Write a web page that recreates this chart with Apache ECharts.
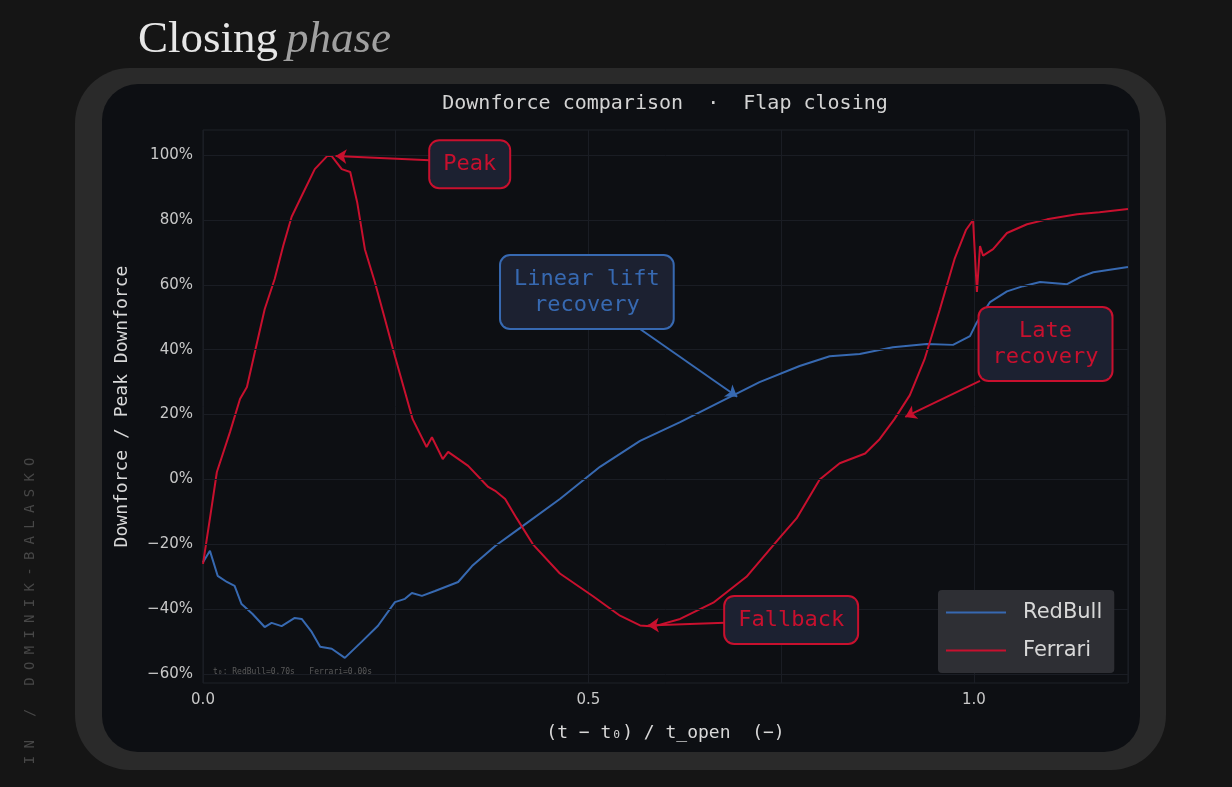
<!DOCTYPE html>
<html>
<head>
<meta charset="utf-8">
<script src="https://cdn.jsdelivr.net/npm/echarts@6/dist/echarts.min.js"></script>
<style>
  html, body { margin: 0; padding: 0; background: #151515; }
  #main { width: 1232px; height: 787px; }
</style>
</head>
<body>
<div id="main"></div>
<script>
// time axis, normalised (t - t0) / t_open
var redbullX = [0, 0.009, 0.019, 0.031, 0.041, 0.050, 0.064, 0.080, 0.089, 0.102, 0.119, 0.128, 0.141, 0.152, 0.167, 0.184,
  0.206, 0.227, 0.249, 0.262, 0.271, 0.284, 0.301, 0.331, 0.349, 0.379, 0.411, 0.463, 0.515, 0.567, 0.619, 0.671, 0.722,
  0.774, 0.813, 0.852, 0.895, 0.939, 0.973, 0.995, 1.004, 1.021, 1.043, 1.064, 1.086, 1.121, 1.138, 1.155, 1.2];
var redbullY = [-25.5, -22, -29.7, -31.6, -32.8, -38.4, -41.4, -45.5, -44.2, -45.2, -42.7, -43, -47, -51.6, -52.2, -55,
  -50, -45.1, -37.8, -36.8, -35, -35.9, -34.4, -31.6, -26.7, -20.5, -15, -6, 3.9, 11.9, 17.7, 23.9, 30,
  35, 38, 38.7, 40.8, 41.8, 41.5, 44.2, 48.5, 54.7, 58, 59.6, 60.9, 60.2, 62.4, 63.9, 65.5];

var ferrariX = [0, 0.009, 0.018, 0.035, 0.048, 0.057, 0.067, 0.080, 0.093, 0.104, 0.115, 0.128, 0.145, 0.161, 0.167, 0.180,
  0.191, 0.200, 0.210, 0.223, 0.236, 0.249, 0.272, 0.290, 0.297, 0.311, 0.318, 0.344, 0.370, 0.379, 0.392, 0.407, 0.428,
  0.463, 0.506, 0.541, 0.567, 0.585, 0.619, 0.662, 0.705, 0.748, 0.770, 0.800, 0.826, 0.859, 0.878, 0.897, 0.917, 0.936,
  0.956, 0.975, 0.990, 0.999, 1.004, 1.008, 1.012, 1.025, 1.043, 1.069, 1.095, 1.134, 1.163, 1.2];
var ferrariY = [-26, -12, 2.3, 14.6, 24.8, 28.5, 39, 52.5, 61.8, 72, 81, 87.4, 95.7, 99.7, 99.7, 95.7,
  94.8, 85.5, 71, 60.8, 49.5, 38, 18.6, 10, 13, 6.3, 8.5, 4.2, -2.3, -3.5, -6, -12, -20,
  -29, -36, -42, -45, -45.3, -43, -38, -30, -18, -12, 0, 5, 8, 12.5, 18.6, 26, 37,
  52.5, 68, 77, 80, 57.8, 72, 69, 71, 76, 78.7, 80.2, 81.8, 82.4, 83.4];

var yTicks = [-60, -40, -20, 0, 20, 40, 60, 80, 100];

// annotations: label, box centre, arrow start, arrow tip (data coords)
var noteTexts = ['Peak', 'Linear lift\nrecovery', 'Late\nrecovery', 'Fallback'];
var noteSeries = ['Ferrari', 'RedBull', 'Ferrari', 'Ferrari'];
var noteBoxes = [[0.346, 97.2], [0.498, 57.8], [1.093, 41.8], [0.763, -43.3]];
var noteFrom = [[0.294, 98.4], [0.567, 46.4], [1.008, 30.4], [0.677, -44.2]];
var noteTo = [[0.172, 99.7], [0.693, 25.5], [0.911, 19.3], [0.577, -45]];

var RED = '#c8102e';
var BLUE = '#3769b1';
var BOXBG = '#1c2131';
var MONO = '"DejaVu Sans Mono", monospace';
var SANS = '"DejaVu Sans", sans-serif';

function zip(xs, ys) {
  return xs.map(function (x, i) { return [x, ys[i]]; });
}
function pct(v) {
  return String(v).replace('-', '\u2212') + '%';
}
function notesFor(name, color) {
  var pts = [], arrows = [];
  noteTexts.forEach(function (t, i) {
    if (noteSeries[i] !== name) return;
    pts.push({ coord: noteBoxes[i], label: { formatter: t } });
    arrows.push([{ coord: noteFrom[i] }, { coord: noteTo[i] }]);
  });
  return {
    markPoint: {
      symbol: 'circle', symbolSize: 1, silent: true,
      itemStyle: { color: 'transparent' },
      label: {
        show: true, position: 'inside', color: color, fontFamily: MONO, fontSize: 22,
        lineHeight: 26, align: 'center', backgroundColor: BOXBG, borderColor: color,
        borderWidth: 2, borderRadius: 9, padding: [10, 13]
      },
      data: pts
    },
    markLine: {
      silent: true, symbol: ['none', 'arrow'], symbolSize: 11,
      lineStyle: { color: color, width: 2, type: 'solid' },
      label: { show: false },
      emphasis: { disabled: true },
      data: arrows
    }
  };
}

var chart = echarts.init(document.getElementById('main'), null, { renderer: 'canvas' });

var rb = notesFor('RedBull', BLUE);
var fe = notesFor('Ferrari', RED);

// watermark letters, spaced out along the left edge
var mark = 'IN / DOMINIK-BALASKO';
var markChars = mark.split('').map(function (c, i) {
  return { type: 'text', x: i * 15.7, y: 0, style: { text: c, fill: '#474747', font: '14px ' + MONO, textAlign: 'center', textVerticalAlign: 'middle' } };
});

var option = {
  backgroundColor: '#151515',
  animation: false,
  graphic: [
    { type: 'rect', z: -10, shape: { x: 75, y: 68, width: 1091, height: 702, r: 55 }, style: { fill: '#2a2a2a' } },
    { type: 'rect', z: -9, shape: { x: 102, y: 84, width: 1038, height: 668, r: 36 }, style: { fill: '#0d0f13' } },
    {
      type: 'text', x: 138, y: 40, z: 5,
      style: {
        text: '{a|Closing}{b|phase}', textVerticalAlign: 'middle',
        rich: {
          a: { fontFamily: '"Liberation Serif", serif', fontSize: 45, fill: '#e6e6e6', color: '#e6e6e6' },
          b: { fontFamily: '"Liberation Serif", serif', fontSize: 45, fontStyle: 'italic', fill: '#a0a0a0', color: '#a0a0a0', padding: [0, 0, 0, 8] }
        }
      }
    },
    {
      type: 'text', x: 665, y: 104, z: 5,
      style: { text: 'Downforce comparison  \u00b7  Flap closing', fill: '#d4d4d4', font: '20px ' + MONO, textAlign: 'center', textVerticalAlign: 'middle' }
    },
    {
      type: 'text', x: 213, y: 672, z: 5,
      style: { text: 't\u2080: RedBull=0.70s   Ferrari=0.00s', fill: '#5a5a5a', font: '8px ' + MONO, textVerticalAlign: 'middle' }
    },
    { type: 'group', x: 30, y: 760, rotation: Math.PI / 2, children: markChars }
  ],
  grid: {
    left: 203, right: 104, top: 130, bottom: 104,
    show: true, backgroundColor: '#0d0f13', borderColor: '#1f2229', borderWidth: 1
  },
  legend: {
    orient: 'vertical', left: 938, top: 590, padding: [12, 12, 12, 8], itemGap: 17, z: 50,
    backgroundColor: '#2e2f34', borderRadius: 4,
    icon: 'rect', itemWidth: 60, itemHeight: 2,
    textStyle: { color: '#d8d8d8', fontSize: 21, fontFamily: SANS, padding: [0, 0, 0, 12] },
    data: ['RedBull', 'Ferrari']
  },
  xAxis: {
    type: 'value', min: 0, max: 1.2, interval: 0.25,
    name: '(t \u2212 t\u2080) / t_open  (\u2212)', nameLocation: 'middle', nameGap: 41,
    nameTextStyle: { color: '#d8d8d8', fontSize: 18, fontFamily: MONO },
    axisLine: { show: false }, axisTick: { show: false },
    axisLabel: {
      color: '#c8c8c8', fontSize: 15, fontFamily: SANS, margin: 10,
      formatter: function (v) { return Math.abs(v * 2 - Math.round(v * 2)) < 1e-6 && v <= 1.0 ? v.toFixed(1) : ''; }
    },
    splitLine: { show: true, lineStyle: { color: '#1a1d24', width: 1 } }
  },
  yAxis: {
    type: 'value', min: -62.75, max: 107.75,
    name: 'Downforce / Peak Downforce', nameLocation: 'middle', nameGap: 72,
    nameTextStyle: { color: '#d8d8d8', fontSize: 18, fontFamily: MONO },
    axisLine: { show: false }, axisTick: { show: false },
    axisLabel: { show: false }, splitLine: { show: false }
  },
  series: [
    {
      name: 'ticks', type: 'line', data: [[0, 0]], symbol: 'none', silent: true,
      lineStyle: { opacity: 0 }, z: 1,
      markLine: {
        silent: true, symbol: 'none',
        lineStyle: { color: '#1a1d24', width: 1, type: 'solid' },
        label: {
          show: true, position: 'start', distance: 10, color: '#c8c8c8', fontSize: 15, fontFamily: SANS,
          formatter: function (p) { return pct(p.value); }
        },
        emphasis: { disabled: true },
        data: yTicks.map(function (v) { return { yAxis: v }; })
      }
    },
    {
      name: 'RedBull', type: 'line', data: zip(redbullX, redbullY), symbol: 'none', z: 3,
      lineStyle: { color: BLUE, width: 2 }, itemStyle: { color: BLUE },
      markPoint: rb.markPoint, markLine: rb.markLine
    },
    {
      name: 'Ferrari', type: 'line', data: zip(ferrariX, ferrariY), symbol: 'none', z: 4,
      lineStyle: { color: RED, width: 2 }, itemStyle: { color: RED },
      markPoint: fe.markPoint, markLine: fe.markLine
    }
  ]
};

chart.setOption(option);
</script>
</body>
</html>
